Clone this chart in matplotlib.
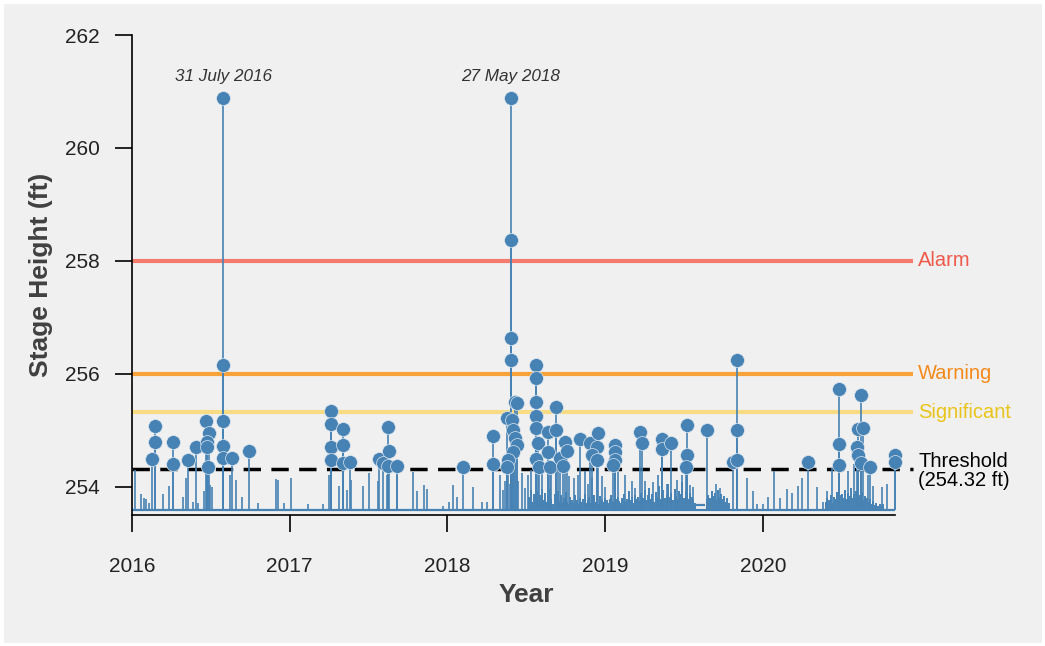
import numpy as np
import matplotlib
matplotlib.use("Agg")
import matplotlib.pyplot as plt

plt.rcParams["font.family"] = ["Liberation Sans", "DejaVu Sans"]

# ---- data (decimal year, stage height in ft) ----
BASE = 253.60
SERIES_END = 2020.84

peak_years = [
    2016.125, 2016.146, 2016.146, 2016.262, 2016.262, 2016.353, 2016.404,
    2016.469, 2016.490, 2016.476, 2016.476, 2016.480,
    2016.579, 2016.579, 2016.579, 2016.579, 2016.579, 2016.632, 2016.742,
    2017.262, 2017.262, 2017.262, 2017.262, 2017.340, 2017.340, 2017.340,
    2017.382, 2017.568, 2017.594, 2017.621, 2017.632, 2017.621, 2017.678,
    2018.097, 2018.291, 2018.291,
    2018.403, 2018.403, 2018.403, 2018.403,
    2018.429, 2018.439, 2018.375, 2018.410, 2018.418, 2018.429, 2018.439,
    2018.418, 2018.386, 2018.375,
    2018.560, 2018.560, 2018.560, 2018.560, 2018.560, 2018.577, 2018.560,
    2018.583,
    2018.640, 2018.691, 2018.686, 2018.640, 2018.648, 2018.712, 2018.746,
    2018.757, 2018.731,
    2018.841, 2018.904, 2018.957, 2018.947, 2018.915, 2018.947,
    2019.063, 2019.063, 2019.063, 2019.052,
    2019.221, 2019.232, 2019.359, 2019.359, 2019.416,
    2019.521, 2019.521, 2019.513, 2019.644,
    2019.834, 2019.834, 2019.813, 2019.834,
    2020.289, 2020.483, 2020.483, 2020.483,
    2020.623, 2020.606, 2020.633, 2020.599, 2020.606, 2020.623, 2020.680,
    2020.838, 2020.838,
]
peak_values = [
    254.50, 254.79, 255.07, 254.79, 254.40, 254.48, 254.71,
    255.17, 254.96, 254.79, 254.71, 254.35,
    260.88, 256.15, 255.17, 254.73, 254.52, 254.51, 254.64,
    255.35, 255.11, 254.71, 254.48, 255.02, 254.74, 254.43,
    254.45, 254.49, 254.42, 255.06, 254.64, 254.37, 254.37,
    254.35, 254.90, 254.40,
    260.88, 258.38, 256.63, 256.24,
    255.51, 255.49, 255.22, 255.19, 255.01, 254.86, 254.74,
    254.62, 254.48, 254.36,
    256.16, 255.92, 255.50, 255.25, 255.05, 254.78, 254.50,
    254.36,
    254.97, 255.00, 255.42, 254.62, 254.36, 254.51, 254.80,
    254.64, 254.37,
    254.84, 254.77, 254.95, 254.71, 254.57, 254.48,
    254.74, 254.62, 254.48, 254.39,
    254.98, 254.78, 254.84, 254.68, 254.77,
    255.10, 254.57, 254.36, 255.00,
    256.24, 255.01, 254.45, 254.48,
    254.45, 255.73, 254.76, 254.39,
    255.63, 255.02, 255.04, 254.71, 254.57, 254.42, 254.36,
    254.57, 254.45,
]

spike_years = [
    2016.020, 2016.060, 2016.075, 2016.090, 2016.105, 2016.195, 2016.237,
    2016.325, 2016.342, 2016.389, 2016.420, 2016.457, 2016.495, 2016.510,
    2016.620, 2016.660, 2016.700, 2016.800, 2016.913, 2016.928, 2016.964,
    2017.006, 2017.118, 2017.209, 2017.249, 2017.310, 2017.365, 2017.387,
    2017.467, 2017.500, 2017.562, 2017.615, 2017.679, 2017.784, 2017.810,
    2017.853, 2017.869, 2017.974, 2018.010, 2018.037, 2018.059, 2018.164,
    2018.217, 2018.249, 2018.333, 2018.350, 2018.365, 2018.380, 2018.395,
    2018.450, 2018.470, 2018.490, 2018.513, 2018.530, 2018.600, 2018.660,
    2018.700, 2018.770, 2018.800, 2018.830, 2018.873, 2018.890, 2018.915,
    2018.978, 2019.000, 2019.080, 2019.126, 2019.169, 2019.190, 2019.253,
    2019.306, 2019.337, 2019.390, 2019.454, 2019.486, 2019.538, 2019.560,
    2019.700, 2019.730, 2019.900, 2019.940, 2019.965, 2020.003, 2020.035,
    2020.070, 2020.109, 2020.151, 2020.183, 2020.225, 2020.246, 2020.342,
    2020.380, 2020.405, 2020.436, 2020.540, 2020.575, 2020.670, 2020.700,
    2020.754, 2020.785,
]
spike_values = [
    254.30, 253.88, 253.81, 253.78, 253.72, 253.88, 254.01,
    253.83, 254.15, 253.74, 253.71, 253.92, 254.04, 254.00,
    254.21, 254.12, 253.83, 253.71, 254.14, 254.12, 253.71,
    254.15, 253.69, 253.69, 254.21, 254.01, 253.94, 254.12,
    254.01, 254.24, 254.10, 254.21, 254.21, 254.27, 253.92,
    254.03, 253.96, 253.66, 253.74, 254.04, 253.83, 254.00,
    253.74, 253.74, 254.21, 253.95, 254.10, 254.30, 254.05,
    254.10, 254.25, 253.98, 254.21, 254.30, 254.30, 254.25,
    254.28, 254.20, 254.15, 254.21, 254.28, 254.05, 254.15,
    254.20, 254.00, 254.27, 254.21, 254.10, 253.98, 254.10,
    254.08, 254.21, 254.05, 254.12, 254.21, 254.04, 254.00,
    254.05, 253.98, 254.15, 253.92, 253.69, 253.69, 253.83,
    254.28, 253.81, 253.96, 253.90, 254.01, 254.16, 254.00,
    253.74, 253.92, 254.33, 254.28, 254.40, 254.21, 254.01,
    254.00, 254.05,
]

# dense low fluctuations, sampled every 0.01 yr from the given start
noise_step = 0.01
noise1_start = 2018.52
noise1_values = [
    253.82, 253.95, 253.74, 253.88, 253.79, 253.92, 253.71, 253.85, 253.97, 253.76,
    253.90, 253.73, 253.84, 253.96, 253.78, 253.70, 253.88, 253.81, 253.93, 253.75,
    253.86, 253.72, 253.80, 253.91, 253.74, 253.69, 253.83, 253.77, 253.72, 253.85,
    253.76, 253.70, 253.81, 253.74, 253.79, 253.88, 253.72, 253.77, 253.83, 253.71,
    253.80, 253.86, 253.74, 253.79, 253.70, 253.84, 253.77, 253.73, 253.81, 253.76,
    253.72, 253.79, 253.85, 253.74, 253.70, 253.78, 253.83, 253.75, 253.71, 253.80,
    253.87, 253.74, 253.79, 253.92, 253.76, 253.82, 253.71, 253.86, 253.78, 253.83,
    253.75, 253.89, 253.80, 253.94, 253.77, 253.85, 253.99, 253.79, 253.87, 253.74,
    253.91, 253.82, 254.02, 253.78, 253.88, 253.95, 253.80, 253.86, 254.05, 253.83,
    253.90, 253.77, 253.96, 253.84, 253.79, 253.93, 253.87, 254.08, 253.81, 253.92,
    253.85, 253.78, 253.90, 253.82, 253.76, 253.72,
]
noise2_start = 2019.645
noise2_values = [
    253.78, 253.86, 253.80, 253.92, 253.84, 253.89, 253.77, 253.95,
    253.82, 253.88, 253.79, 253.84, 253.74, 253.80, 253.72,
]
noise3_start = 2020.40
noise3_values = [
    253.74, 253.80, 253.77, 253.86, 253.72, 253.83, 253.79, 253.91, 253.76, 253.85,
    253.88, 253.81, 253.95, 253.78, 253.90, 253.84, 253.98, 253.80, 253.87, 253.93,
    253.79, 253.86, 253.82, 253.91, 253.76, 253.84, 253.80, 253.73, 253.78, 253.70,
    253.75, 253.68, 253.72, 253.66, 253.70, 253.67, 253.69,
]
plateau = (2019.57, 2019.635, 253.68)

levels = {
    "Alarm": (258.0, "#f47b6e", "#ee5a4b"),
    "Warning": (256.0, "#f8a23a", "#f4891b"),
    "Significant": (255.32, "#f7dc83", "#e9c41a"),
}
threshold = 254.32

events = [("31 July 2016", 2016.579), ("27 May 2018", 2018.403)]

# ---- plot ----
blue = "#4682b4"
fig = plt.figure(figsize=(10.45, 6.46), dpi=100)
fig.patch.set_facecolor("#f0f0f0")
fig.patch.set_edgecolor("white")
fig.patch.set_linewidth(5)
ax = fig.add_axes([0.1263, 0.2025, 0.7546, 0.7433])
ax.set_facecolor("#f0f0f0")

x_end = 2020.952
for name, (val, lc, tc) in levels.items():
    ax.plot([2016, x_end], [val, val], color=lc, lw=3, solid_capstyle="butt", zorder=1)
    ax.text(2020.984, val, name, color=tc, fontsize=14.5, va="center", ha="left", clip_on=False)
ax.plot([2016, x_end], [threshold, threshold], color="black", lw=2.5,
        linestyle=(0, (5, 3)), zorder=1)
ax.text(2020.984, threshold - 0.04, "Threshold\n(254.32 ft)", color="black", fontsize=14.5,
        va="center", ha="left", linespacing=1.0, clip_on=False)

# raw stage series
ax.hlines(BASE, 2016, SERIES_END, color=blue, lw=1.6, zorder=2)
ax.hlines(plateau[2], plateau[0], plateau[1], color=blue, lw=1.6, zorder=2)
for start, vals in [(noise1_start, noise1_values), (noise2_start, noise2_values),
                    (noise3_start, noise3_values)]:
    xs = start + noise_step * np.arange(len(vals))
    ax.vlines(xs, BASE, vals, color=blue, lw=1.4, zorder=2)
ax.vlines(spike_years, BASE, spike_values, color=blue, lw=1.2, zorder=2)
ax.vlines(peak_years, BASE, peak_values, color=blue, lw=1.2, zorder=2)
ax.plot(peak_years, peak_values, "o", ms=10, mfc=blue, mec="#dde6ee", mew=0.5,
        linestyle="none", zorder=3)

for label, yr in events:
    ax.text(yr, 261.26, label, style="italic", fontsize=12.3, color="#333333",
            ha="center", va="center")

ax.set_xlim(2016, 2021.0)
ax.set_ylim(253.5, 262.0)
ax.set_xticks([2016, 2017, 2018, 2019, 2020])
ax.set_yticks([254, 256, 258, 260, 262])
for s in ["top", "right"]:
    ax.spines[s].set_visible(False)
ax.spines["left"].set_bounds(253.5, 262)
ax.spines["bottom"].set_bounds(2016, SERIES_END)
for s in ["left", "bottom"]:
    ax.spines[s].set_linewidth(1.2)
    ax.spines[s].set_color("black")
ax.tick_params(axis="both", length=12, width=1.2, labelsize=15, colors="black",
               labelcolor="#222222")
ax.tick_params(axis="y", pad=11)
ax.tick_params(axis="x", pad=18)

ax.set_xlabel("Year", fontsize=19, fontweight="bold", color="#404040", labelpad=5)
ax.set_ylabel("Stage Height (ft)", fontsize=19, fontweight="bold", color="#404040",
              labelpad=9)

fig.savefig("out.png", dpi=100, facecolor=fig.get_facecolor(), edgecolor="white")
